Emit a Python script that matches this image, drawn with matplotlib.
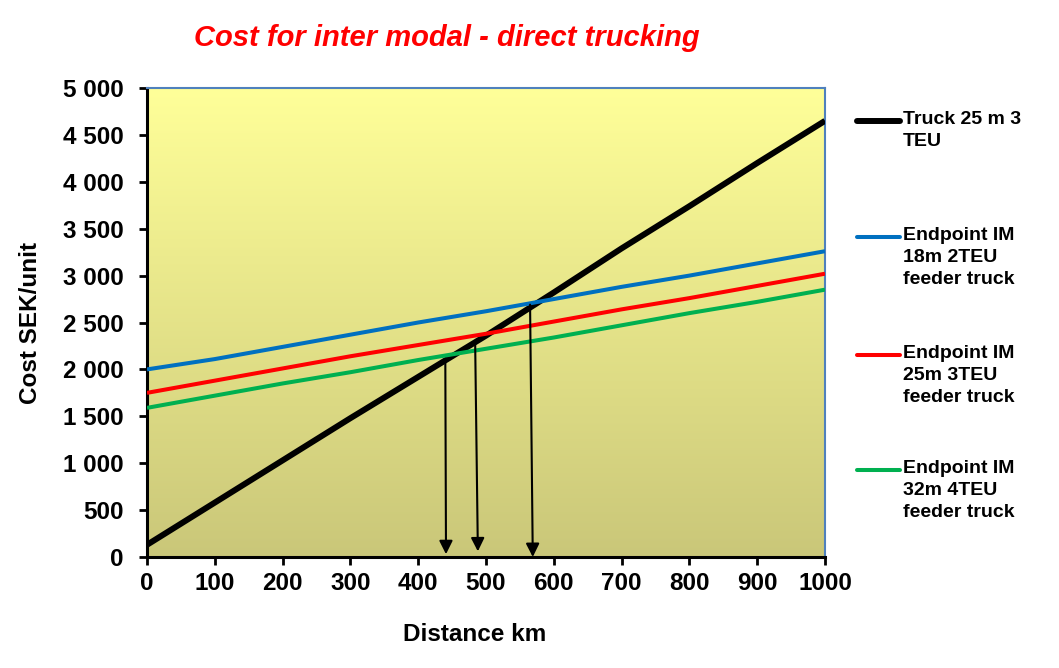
import numpy as np
import matplotlib
matplotlib.use("Agg")
import matplotlib.pyplot as plt
from matplotlib.ticker import FuncFormatter, MultipleLocator
from matplotlib.lines import Line2D

# ---- data ----
distance = [0, 100, 200, 300, 400, 500, 600, 700, 800, 900, 1000]
truck_25m_3teu = [130, 580, 1030, 1480, 1920, 2360, 2820, 3290, 3740, 4200, 4650]
im_18m_2teu = [2000, 2110, 2240, 2370, 2500, 2620, 2750, 2880, 3000, 3130, 3260]
im_25m_3teu = [1750, 1880, 2010, 2140, 2260, 2380, 2510, 2640, 2760, 2890, 3020]
im_32m_4teu = [1590, 1720, 1850, 1970, 2100, 2220, 2340, 2470, 2600, 2720, 2850]

series_labels = ["Truck 25 m 3\nTEU",
                 "Endpoint IM\n18m 2TEU\nfeeder truck",
                 "Endpoint IM\n25m 3TEU\nfeeder truck",
                 "Endpoint IM\n32m 4TEU\nfeeder truck"]
series_colors = ["#000000", "#0070C0", "#FF0000", "#00B050"]
series_widths = [4.3, 2.9, 2.9, 2.9]

# break-even arrows: (x_top, y_top, x_bottom, y_bottom)
arrows = [(440, 2080, 441, 30),
          (484, 2290, 488, 60),
          (565, 2690, 569, 0)]

title = "Cost for inter modal - direct trucking"
xlabel = "Distance km"
ylabel = "Cost SEK/unit"

# ---- figure ----
plt.rcParams['font.family'] = ['Liberation Sans', 'DejaVu Sans']
fig = plt.figure(figsize=(10.59, 6.68), dpi=100)
ax = fig.add_axes([147/1059, 1 - 557/668, (825-147)/1059, (557-88)/668])

# gradient background
top = np.array([255, 255, 153]) / 255
bot = np.array([202, 199, 121]) / 255
t = np.linspace(0, 1, 256)[:, None]
grad = (top[None, :] * (1 - t) + bot[None, :] * t)[:, None, :]
ax.imshow(grad, extent=[0, 1000, 0, 5000], origin='upper', aspect='auto',
          zorder=0, interpolation='bicubic')
ax.set_xlim(0, 1000)
ax.set_ylim(0, 5000)

series = [truck_25m_3teu, im_18m_2teu, im_25m_3teu, im_32m_4teu]
for ys, c, w in zip(series, series_colors, series_widths):
    ax.plot(distance, ys, color=c, lw=w, solid_capstyle='butt', zorder=3)

for (x0, y0, x1, y1) in arrows:
    ax.annotate("", xy=(x1, y1), xytext=(x0, y0),
                arrowprops=dict(arrowstyle='-|>', color='black', lw=1.5,
                                mutation_scale=20, shrinkA=0, shrinkB=0),
                zorder=4)

# spines
for s in ['top', 'right']:
    ax.spines[s].set_color('#4F81BD')
    ax.spines[s].set_linewidth(1.5)
for s in ['left', 'bottom']:
    ax.spines[s].set_color('black')
    ax.spines[s].set_linewidth(2.2)

ax.xaxis.set_major_locator(MultipleLocator(100))
ax.yaxis.set_major_locator(MultipleLocator(500))
ax.yaxis.set_major_formatter(FuncFormatter(lambda v, p: f"{int(v):,}".replace(",", " ")))
ax.tick_params(axis='both', direction='out', length=6, width=2, labelsize=17.5)
ax.tick_params(axis='y', pad=11)
ax.tick_params(axis='x', pad=5)
for lab in ax.get_xticklabels() + ax.get_yticklabels():
    lab.set_fontweight('bold')

ax.set_xlabel(xlabel, fontsize=17.5, fontweight='bold', labelpad=20)
ax.xaxis.label.set_x((475 - 147) / 678)
ax.set_ylabel(ylabel, fontsize=17.5, fontweight='bold', labelpad=15)

fig.text(447/1059, 1 - 38/668, title, color='red', fontsize=21,
         fontweight='bold', fontstyle='italic', ha='center', va='center')

# legend (manual, Excel style: handle aligned with first text line)
leg_y = [121, 237, 355, 470]
for lab, c, w, yy in zip(series_labels, series_colors, series_widths, leg_y):
    yf = 1 - yy / 668
    fig.add_artist(Line2D([857/1059, 900/1059], [yf, yf], color=c,
                          lw=w, solid_capstyle='round', transform=fig.transFigure))
    fig.text(903/1059, 1 - (yy - 10) / 668, lab, fontsize=14, fontweight='bold',
             ha='left', va='top', linespacing=1.38)

fig.savefig("out.png", dpi=100)
